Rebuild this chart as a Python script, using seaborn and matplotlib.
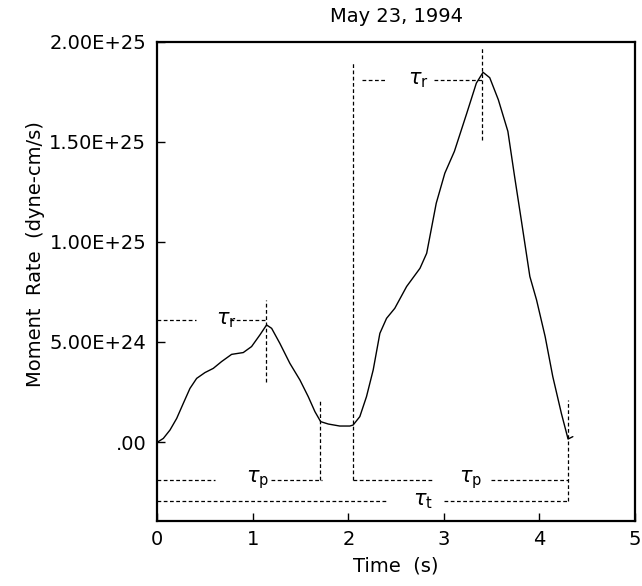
import numpy as np
import pandas as pd
import seaborn as sns
import matplotlib
matplotlib.use("Agg")
import matplotlib.pyplot as plt

# ---- data (moment rate in units of 1E24 dyne-cm/s) ----
time_s = [0.00, 0.01, 0.063, 0.133, 0.203, 0.272, 0.342, 0.412, 0.499, 0.586,
          0.673, 0.778, 0.90, 0.987, 1.074, 1.144, 1.197, 1.283, 1.388, 1.493,
          1.58, 1.65, 1.71, 1.79, 1.91, 2.016, 2.05, 2.12, 2.19, 2.26,
          2.33, 2.40, 2.486, 2.61, 2.75, 2.82, 2.92, 3.01, 3.11, 3.24,
          3.34, 3.41, 3.48, 3.57, 3.67, 3.74, 3.81, 3.90, 3.97, 4.06,
          4.14, 4.23, 4.30, 4.35]
rate_e24 = [0.00, 0.02, 0.18, 0.60, 1.18, 1.93, 2.68, 3.18, 3.47, 3.68,
            4.02, 4.38, 4.47, 4.77, 5.35, 5.85, 5.68, 4.93, 3.93, 3.10,
            2.27, 1.52, 1.02, 0.90, 0.80, 0.80, 0.85, 1.27, 2.27, 3.60,
            5.43, 6.18, 6.68, 7.77, 8.68, 9.43, 11.93, 13.43, 14.52, 16.43,
            17.93, 18.47, 18.20, 17.10, 15.52, 13.27, 11.10, 8.27, 7.10, 5.27,
            3.27, 1.43, 0.15, 0.27]

title = "May 23, 1994"
xlabel = "Time  (s)"
ylabel = "Moment  Rate  (dyne-cm/s)"
x_ticks = [0, 1, 2, 3, 4, 5]
y_ticks_e24 = [0, 5, 10, 15, 20]
y_tick_labels = [".00", "5.00E+24", "1.00E+25", "1.50E+25", "2.00E+25"]

# timing annotations (x in s, y in 1E24)
# horizontal dashed segments: (x0, x1, y)
h_segments = [
    (0.00, 0.41, 6.1), (0.76, 1.14, 6.1),          # tau_r, first event
    (0.00, 0.60, -1.9), (1.19, 1.72, -1.9),        # tau_p, first event
    (2.05, 2.875, -1.9), (3.49, 4.30, -1.9),       # tau_p, second event
    (2.14, 2.39, 18.1), (2.90, 3.40, 18.1),        # tau_r, second event
    (0.00, 2.39, -2.95), (3.00, 4.30, -2.95),      # tau_t
]
# vertical dashed segments: (x, y0, y1)
v_segments = [
    (1.14, 3.0, 7.1),
    (1.70, -1.9, 2.1),
    (2.05, -1.9, 19.0),
    (3.40, 15.1, 19.7),
    (4.30, -2.95, 2.1),
]
# labels: (x, y, sub)
tau_labels = [
    (0.72, 6.1, "r"),
    (1.05, -1.9, "p"),
    (2.73, 18.1, "r"),
    (3.28, -1.9, "p"),
    (2.78, -2.95, "t"),
]

# ---- plotting ----
sns.set_style("ticks")
plt.rcParams["font.family"] = ["DejaVu Sans"]
plt.rcParams["mathtext.fontset"] = "dejavusans"
plt.rcParams["text.color"] = "black"
plt.rcParams["axes.labelcolor"] = "black"

fig = plt.figure(figsize=(6.42, 5.86), dpi=100)
ax = fig.add_axes([0.245, 0.1114, 0.744, 0.8175])

scale = 1e24
df = pd.DataFrame({"t": time_s, "m": np.array(rate_e24) * scale})
sns.lineplot(data=df, x="t", y="m", ax=ax, color="black", linewidth=1.0,
             sort=False, estimator=None)

dash = (0, (3, 2))
for x0, x1, y in h_segments:
    ax.plot([x0, x1], [y * scale, y * scale], color="black", lw=0.9, linestyle=dash)
for x, y0, y1 in v_segments:
    ax.plot([x, x], [y0 * scale, y1 * scale], color="black", lw=0.9, linestyle=dash)
for x, y, sub in tau_labels:
    ax.text(x, y * scale, r"$\tau_{\mathrm{%s}}$" % sub, fontsize=15,
            ha="center", va="center", color="black")

ax.set_xlim(0, 5)
ax.set_ylim(-3.93 * scale, 20.0 * scale)
ax.set_xticks(x_ticks)
ax.set_xticklabels([str(v) for v in x_ticks])
ax.set_yticks([v * scale for v in y_ticks_e24])
ax.set_yticklabels(y_tick_labels)
ax.tick_params(axis="both", direction="in", length=6, width=1, labelsize=14,
               colors="black", top=False, right=False)
ax.tick_params(axis="x", pad=7)
ax.tick_params(axis="y", pad=8)
for s in ax.spines.values():
    s.set_visible(True)
    s.set_linewidth(1.6)
    s.set_color("black")

ax.set_xlabel(xlabel, fontsize=14, va="center")
ax.xaxis.set_label_coords(0.5, -0.0946)
ax.set_ylabel(ylabel, fontsize=14, va="center")
ax.yaxis.set_label_coords(-0.256, 0.557)
ax.set_title(title, fontsize=14, y=1.0516, va="center", pad=0, color="black")

fig.savefig("out.png", dpi=100)
